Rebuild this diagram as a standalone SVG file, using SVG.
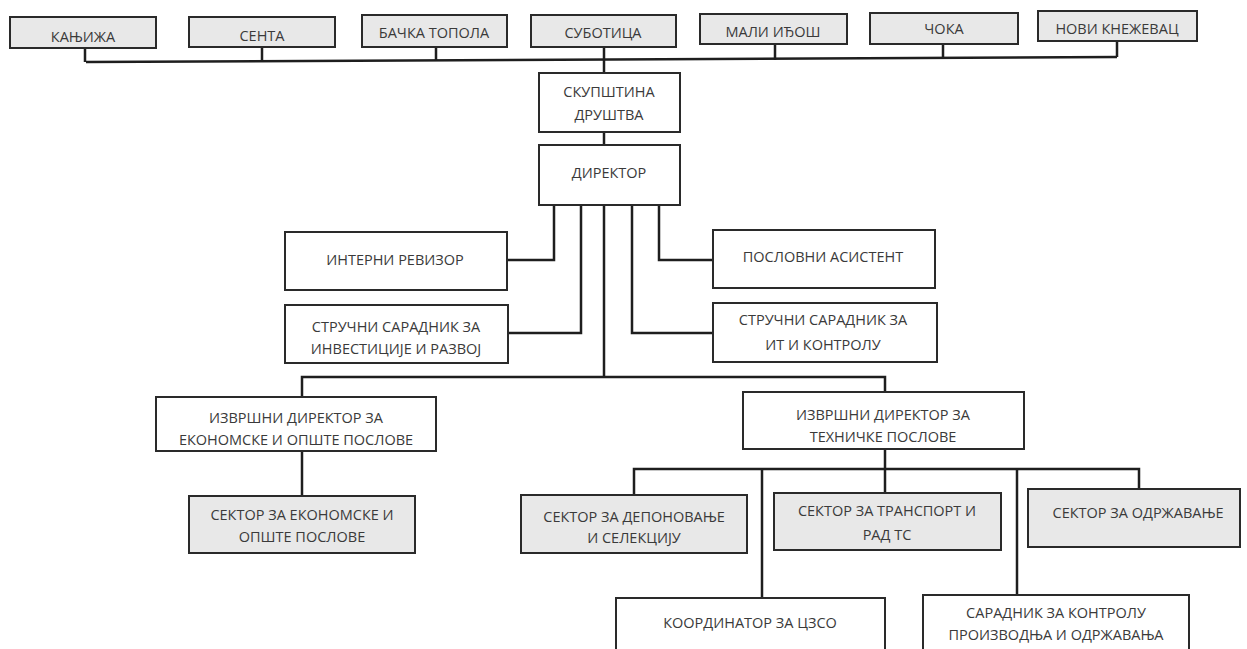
<svg xmlns="http://www.w3.org/2000/svg" width="1247" height="649" viewBox="0 0 1247 649">
<style>
.bg{fill:#ffffff}
.box{fill:#ffffff;stroke:#2a2a2a;stroke-width:2}
.gray{fill:#e8e8e8;stroke:#2a2a2a;stroke-width:2}
.lbl{font-family:"Open Sans","Liberation Sans",sans-serif;font-size:14.5px;fill:#3a3a3a;text-anchor:middle}
.con{fill:none;stroke:#1e1e1e;stroke-width:2.5}
</style>
<rect class="bg" x="0" y="0" width="1247" height="649"/>
<g id="connectors">
<path class="con" d="M86,62 L1117,57"/>
<path class="con" d="M85,48 V62 M262,47 V61 M436,47 V61 M604,47 V73 M775,44 V60 M943,44 V59 M1117,41 V57"/>
<path class="con" d="M604,132 V145"/>
<path class="con" d="M554,205 V260 H507"/>
<path class="con" d="M581,205 V333 H508"/>
<path class="con" d="M659,205 V260 H713"/>
<path class="con" d="M632,205 V333 H713"/>
<path class="con" d="M604,205 V377"/>
<path class="con" d="M302,397 V377 H885 V392"/>
<path class="con" d="M302,451 V496"/>
<path class="con" d="M885,449 V493"/>
<path class="con" d="M634,495 V469 H1139 V489"/>
<path class="con" d="M762,469 V598"/>
<path class="con" d="M1017,469 V595"/>
</g>
<g id="n-kanjiza"><rect class="gray" x="10" y="17" width="146" height="31"/><text class="lbl" x="83" y="42">КАЊИЖА</text></g>
<g id="n-senta"><rect class="gray" x="189" y="17" width="146" height="30"/><text class="lbl" x="262" y="41">СЕНТА</text></g>
<g id="n-backa-topola"><rect class="gray" x="362" y="15" width="145" height="32"/><text class="lbl" x="434" y="38">БАЧКА ТОПОЛА</text></g>
<g id="n-subotica"><rect class="gray" x="531" y="15" width="145" height="32"/><text class="lbl" x="603" y="38">СУБОТИЦА</text></g>
<g id="n-mali-idjos"><rect class="gray" x="700" y="14" width="147" height="30"/><text class="lbl" x="773" y="37">МАЛИ ИЂОШ</text></g>
<g id="n-coka"><rect class="gray" x="870" y="13" width="148" height="31"/><text class="lbl" x="944" y="34">ЧОКА</text></g>
<g id="n-novi-knezevac"><rect class="gray" x="1038" y="11" width="159" height="30"/><text class="lbl" x="1117" y="34">НОВИ КНЕЖЕВАЦ</text></g>
<g id="n-skupstina"><rect class="box" x="539" y="73" width="141" height="59"/><text class="lbl" x="609" y="97">СКУПШТИНА</text><text class="lbl" x="609" y="120">ДРУШТВА</text></g>
<g id="n-direktor"><rect class="box" x="539" y="145" width="141" height="60"/><text class="lbl" x="609" y="178">ДИРЕКТОР</text></g>
<g id="n-interni"><rect class="box" x="285" y="232" width="222" height="58"/><text class="lbl" x="395" y="265">ИНТЕРНИ РЕВИЗОР</text></g>
<g id="n-investicije"><rect class="box" x="285" y="305" width="223" height="58"/><text class="lbl" x="396" y="332">СТРУЧНИ САРАДНИК ЗА</text><text class="lbl" x="396" y="354">ИНВЕСТИЦИЈЕ И РАЗВОЈ</text></g>
<g id="n-poslovni"><rect class="box" x="713" y="230" width="222" height="58"/><text class="lbl" x="823" y="262">ПОСЛОВНИ АСИСТЕНТ</text></g>
<g id="n-it"><rect class="box" x="713" y="303" width="224" height="59"/><text class="lbl" x="823" y="325">СТРУЧНИ САРАДНИК ЗА</text><text class="lbl" x="823" y="350">ИТ И КОНТРОЛУ</text></g>
<g id="n-izvrsni-ekon"><rect class="box" x="156" y="397" width="280" height="54"/><text class="lbl" x="296" y="423">ИЗВРШНИ ДИРЕКТОР ЗА</text><text class="lbl" x="296" y="445">ЕКОНОМСКЕ И ОПШТЕ ПОСЛОВЕ</text></g>
<g id="n-sektor-ekon"><rect class="gray" x="189" y="496" width="226" height="57"/><text class="lbl" x="302" y="520">СЕКТОР ЗА ЕКОНОМСКЕ И</text><text class="lbl" x="302" y="542">ОПШТЕ ПОСЛОВЕ</text></g>
<g id="n-izvrsni-teh"><rect class="box" x="743" y="392" width="281" height="57"/><text class="lbl" x="883" y="420">ИЗВРШНИ ДИРЕКТОР ЗА</text><text class="lbl" x="883" y="442">ТЕХНИЧКЕ ПОСЛОВЕ</text></g>
<g id="n-deponovanje"><rect class="gray" x="521" y="495" width="226" height="58"/><text class="lbl" x="634" y="522">СЕКТОР ЗА ДЕПОНОВАЊЕ</text><text class="lbl" x="634" y="543">И СЕЛЕКЦИЈУ</text></g>
<g id="n-transport"><rect class="gray" x="774" y="493" width="227" height="57"/><text class="lbl" x="887" y="516">СЕКТОР ЗА ТРАНСПОРТ И</text><text class="lbl" x="887" y="540">РАД ТС</text></g>
<g id="n-odrzavanje"><rect class="gray" x="1028" y="489" width="212" height="58"/><text class="lbl" x="1138" y="518">СЕКТОР ЗА ОДРЖАВАЊЕ</text></g>
<g id="n-koordinator"><rect class="box" x="616" y="598" width="269" height="60"/><text class="lbl" x="750" y="628">КООРДИНАТОР ЗА ЦЗСО</text></g>
<g id="n-saradnik"><rect class="box" x="923" y="595" width="266" height="60"/><text class="lbl" x="1056" y="618">САРАДНИК ЗА КОНТРОЛУ</text><text class="lbl" x="1056" y="640">ПРОИЗВОДЊА И ОДРЖАВАЊА</text></g>
</svg>
